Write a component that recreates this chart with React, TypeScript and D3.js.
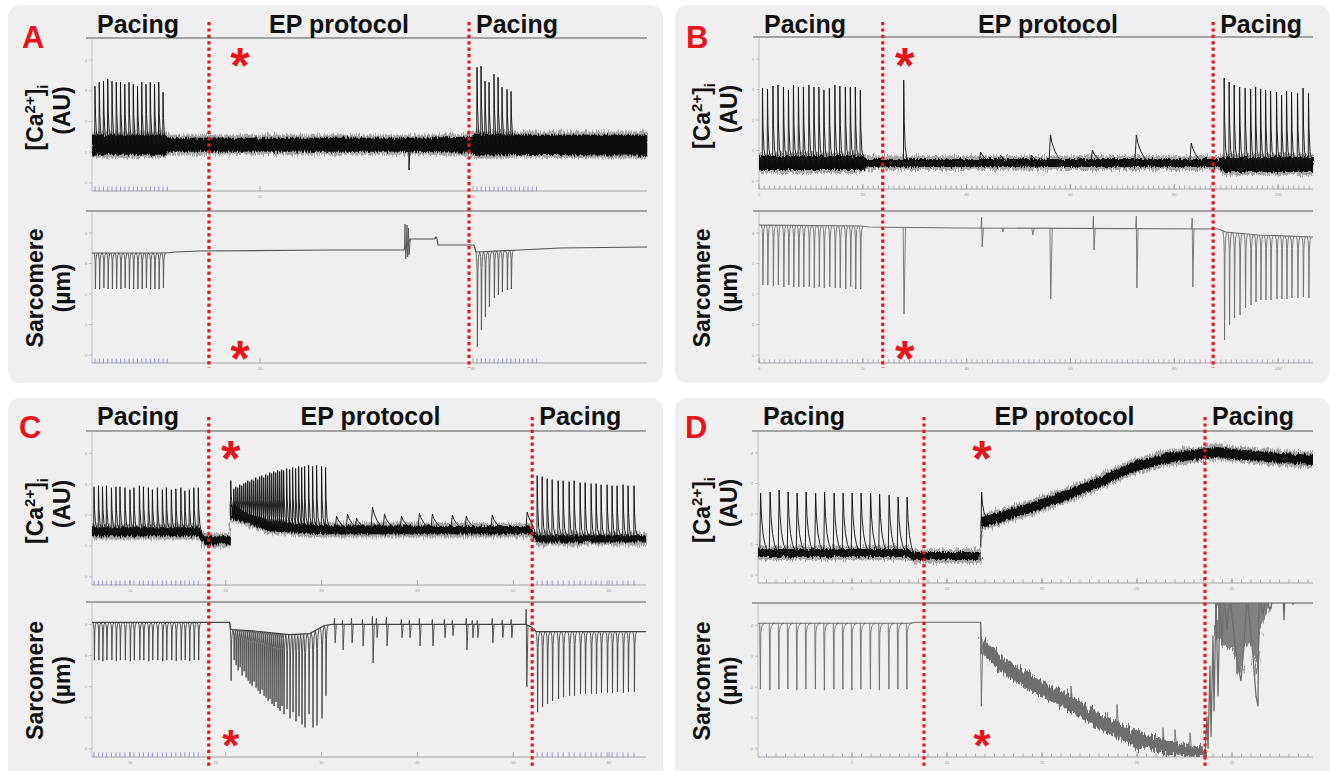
import React from 'react';
import * as d3 from 'd3';

type Pt = [number, number];
type Band = [number, number, number][];
type Bip = [number, number | null, number | null];

// ================= DATA (time in s, values in arbitrary units above axis) =================
// ---- Panel A ----
const aBoundaries = [23.4, 75.4];
const aStimulus = 29.4;
const aCaBand: Band = [[0, 36, 56], [14.6, 36, 56], [15.2, 39, 53], [62.6, 39, 53], [64.6, 39, 53], [75.6, 38, 54], [76.8, 35, 57], [85.6, 36, 56], [111, 35, 56]];
const aCaSpikes: Pt[] = [[0.6, 104], [1.45, 108], [2.3, 109], [3.15, 111], [4.0, 109], [4.85, 108], [5.7, 108], [6.55, 106], [7.4, 108], [8.25, 106], [9.1, 104], [9.95, 108], [10.8, 106], [11.65, 108], [12.5, 106], [13.35, 108], [14.2, 98], [77.0, 123], [77.8, 124], [78.6, 109], [79.4, 108], [80.4, 116], [81.2, 113], [82.0, 103], [83.0, 101], [83.8, 99]];
const aCaEvents: Pt[] = [[63.4, 21]];
const aStim = [0.6, 1.45, 2.3, 3.15, 4.0, 4.85, 5.7, 6.55, 7.4, 8.25, 9.1, 9.95, 10.8, 11.65, 12.5, 13.35, 14.2, 15.05, 77.0, 77.85, 78.7, 79.55, 80.4, 81.25, 82.1, 82.95, 83.8, 84.65, 85.5, 86.35, 87.2, 88.05, 88.9];
const aSarcBase: Pt[] = [[0, 110], [14.8, 110], [16.6, 111], [21.6, 112], [47.6, 113], [62.4, 113], [63.6, 124], [68.4, 124], [68.8, 126], [69.0, 124], [69.2, 118], [76.4, 118], [76.8, 111], [85.6, 113], [93.6, 115], [111, 116]];
const aSarcSpikes: Pt[] = [[0.6, 74], [1.45, 74], [2.3, 75], [3.15, 74], [4.0, 74], [4.85, 74], [5.7, 74], [6.55, 75], [7.4, 74], [8.25, 74], [9.1, 74], [9.95, 74], [10.8, 75], [11.65, 74], [12.5, 74], [13.35, 74], [14.2, 75], [77.0, 16], [77.8, 33], [78.6, 46], [79.4, 56], [80.4, 65], [81.2, 68], [82.0, 71], [83.0, 73], [83.8, 74]];
const aSarcEvents: Bip[] = [[62.6, 139, 104], [63.0, 138, 106], [63.3, 135, 108]];
const aMajorTicks = [33.6, 76.2];
const aMajorLabels = ['20', '40'];

// ---- Panel B ----
const bBoundaries = [24.8, 91.0];
const bStimulus = 29.0;
const bCaBand: Band = [[0, 19, 33], [20.8, 19, 33], [21.6, 22, 30], [92.4, 22, 30], [93.0, 17, 32], [111, 17, 32]];
const bCaSpikes: Pt[] = [[0.7, 101], [1.7, 100], [2.8, 103], [3.8, 104], [4.9, 102], [5.9, 99], [6.9, 104], [7.9, 102], [8.9, 102], [10.0, 104], [11.0, 102], [12.0, 102], [13.0, 99], [14.1, 101], [15.2, 104], [16.2, 103], [17.3, 102], [18.3, 102], [19.3, 102], [20.3, 99], [29.0, 109],
  [93.2, 111], [94.2, 107], [95.2, 104], [96.3, 102], [97.4, 101], [98.5, 100], [99.5, 102], [100.5, 100], [101.5, 99], [102.5, 98], [103.7, 97], [104.7, 94], [105.7, 98], [106.7, 97], [107.9, 96], [109.0, 101], [110.1, 96]];
const bCaEvents: Pt[] = [[44.4, 37], [48.4, 34], [54.6, 34], [58.4, 54], [64.0, 32], [66.8, 39], [75.6, 54], [86.6, 46]];
const bSarcBase: Pt[] = [[0, 138], [20.5, 137], [22, 136], [40, 135], [92, 134], [93.5, 131], [100, 128], [111, 126]];
const bSarcSpikes: Pt[] = [[0.7, 78], [1.7, 78], [2.8, 77], [3.8, 78], [4.9, 76], [5.9, 78], [6.9, 76], [7.9, 76], [8.9, 76], [10.0, 76], [11.0, 75], [12.0, 76], [13.0, 75], [14.1, 76], [15.2, 75], [16.2, 75], [17.3, 74], [18.3, 76], [19.3, 74], [20.3, 74],
  [93.2, 23], [94.2, 38], [95.2, 45], [96.3, 48], [97.4, 55], [98.5, 58], [99.5, 61], [100.5, 63], [101.5, 63], [102.5, 63], [103.7, 64], [104.7, 64], [105.7, 64], [106.7, 65], [107.9, 65], [109.0, 66], [110.1, 65]];
const bSarcEvents: Bip[] = [[29.0, null, 49], [44.6, 146, 116], [48.8, null, 131], [54.8, null, 128], [58.4, null, 64], [67.0, 147, 113], [75.6, 147, 75], [86.8, 145, 76]];
const bMajorTicks = [0, 20.8, 41.6, 62.4, 83.2, 104];
const bMajorLabels = ['0', '20', '40', '60', '80', '100'];

// ---- Panel C ----
const cBoundaries = [23.4, 88.2];
const cStimulus = 27.6;
const cCaBand: Band = [[0, 48, 57], [21.5, 48, 57], [22.5, 40, 48], [27.6, 40, 48], [27.8, 66, 80], [31.6, 60, 70], [35.6, 53, 63], [41.6, 51, 60], [47, 50, 59], [88, 50, 58], [89, 42, 49], [111, 42, 49]];
const cCaPacing: Pt[] = [[0.4, 97], [1.3, 98], [2.1, 97], [2.9, 98], [3.9, 96], [4.8, 97], [5.6, 97], [6.6, 96], [7.6, 94], [8.4, 96], [9.5, 98], [10.3, 97], [11.3, 96], [12.1, 94], [13.1, 96], [14.1, 94], [14.9, 96], [15.9, 94], [16.8, 95], [17.8, 96], [18.6, 93], [19.5, 94], [20.4, 96], [21.3, 96],
  [89.2, 108], [90.2, 107], [91.2, 105], [92.2, 104], [93.4, 103], [94.4, 103], [95.6, 102], [96.6, 103], [97.8, 101], [98.8, 101], [100.0, 100], [101.0, 100], [102.0, 99], [103.2, 99], [104.2, 98], [105.2, 98], [106.4, 99], [107.4, 98], [108.6, 98]];
const cCaBurst: Pt[] = [[27.8, 103], [28.4, 95], [28.8, 97], [29.2, 96], [29.6, 99], [30.0, 98], [30.4, 100], [30.8, 101], [31.2, 103], [31.6, 102], [32.0, 104], [32.4, 103], [32.8, 106], [33.2, 104], [33.6, 107], [34.0, 108], [34.4, 106], [34.8, 109], [35.2, 108], [35.6, 111], [36.0, 110], [36.4, 112], [36.8, 111], [37.2, 113], [37.6, 112], [38.0, 114], [38.4, 113], [39.0, 115], [39.6, 114], [40.2, 116], [40.8, 115], [41.4, 117], [42.0, 116], [42.6, 117], [43.4, 118], [44.2, 117], [45.0, 118], [46.0, 117], [46.8, 116]];
const cCaEvents: Pt[] = [[49.0, 68], [51.2, 70], [53.0, 66], [56.2, 77], [58.6, 70], [62.0, 68], [65.6, 71], [68.2, 70], [72.2, 69], [75.0, 68], [80.2, 69], [87.2, 72]];
const cStim = [0.4, 1.3, 2.1, 2.9, 3.9, 4.8, 5.6, 6.6, 7.6, 8.4, 9.5, 10.3, 11.3, 12.1, 13.1, 14.1, 14.9, 15.9, 16.8, 17.8, 18.6, 19.5, 20.4, 21.3, 89.2, 90.2, 91.2, 92.2, 93.4, 94.4, 95.6, 96.6, 97.8, 98.8, 100.0, 101.0, 102.0, 103.2, 104.2, 105.2, 106.4, 107.4, 108.6];
const cSarcBase: Pt[] = [[0, 132], [21.6, 132], [27.6, 132], [27.8, 125], [31.6, 124], [35.6, 122], [39.6, 120], [43.6, 121], [46.6, 129], [48, 130], [87, 130], [88.2, 127], [89, 123], [111, 123]];
const cSarcPacing: Pt[] = [[0.4, 95], [1.3, 95], [2.1, 94], [2.9, 95], [3.9, 95], [4.8, 94], [5.6, 95], [6.6, 95], [7.6, 94], [8.4, 95], [9.5, 95], [10.3, 95], [11.3, 94], [12.1, 95], [13.1, 95], [14.1, 94], [14.9, 95], [15.9, 95], [16.8, 94], [17.8, 95], [18.6, 95], [19.5, 94], [20.4, 95], [21.3, 95],
  [89.2, 44], [90.2, 49], [91.2, 52], [92.2, 55], [93.4, 57], [94.4, 59], [95.6, 60], [96.6, 60], [97.8, 62], [98.8, 62], [100.0, 62], [101.0, 62], [102.0, 63], [103.2, 63], [104.2, 63], [105.2, 64], [106.4, 63], [107.4, 64], [108.6, 64]];
const cSarcBurst: Pt[] = [[27.8, 75], [28.4, 95], [28.8, 90], [29.2, 85], [29.6, 88], [30.0, 80], [30.4, 84], [30.8, 78], [31.2, 75], [31.6, 72], [32.0, 70], [32.4, 74], [32.8, 68], [33.2, 65], [33.6, 62], [34.0, 66], [34.4, 60], [34.8, 58], [35.2, 55], [35.6, 57], [36.0, 52], [36.4, 50], [36.8, 54], [37.2, 48], [37.6, 45], [38.0, 50], [38.4, 42], [39.0, 47], [39.6, 38], [40.2, 44], [40.8, 35], [41.4, 40], [42.0, 32], [42.6, 29], [43.4, 42], [44.2, 29], [45.0, 31], [46.0, 38], [46.8, 60]];
const cSarcEvents: Bip[] = [[48.6, 136, 112], [50.2, 134, 105], [52.0, 136, 112], [54.2, 135, 109], [56.2, 138, 92], [57.0, 136, 117], [59.0, 137, 109], [62.0, 135, 117], [63.6, 134, 117], [65.6, 136, 109], [68.2, 135, 109], [70.6, 135, 117], [72.2, 134, 119], [75.0, 136, 105], [76.2, 134, 117], [77.2, 134, 117], [80.2, 136, 112], [82.2, 134, 117], [84.0, 135, 117], [87.0, 145, 69]];
const cMajorTicks = [7.6, 26.8, 46.0, 65.2, 84.4, 103.6];
const cMajorLabels = ['10', '20', '30', '40', '50', '60'];

// ---- Panel D ----
const dBoundaries = [33.2, 89.4];
const dStimulus = 44.6;
const dCaBand: Band = [[0, 26, 34], [30, 26, 34], [31, 23, 31], [44.5, 23, 31], [44.7, 55, 66], [48.4, 61, 71], [55, 71, 81], [61.8, 83, 93], [68.4, 96, 106], [75, 111, 121], [81.8, 120, 130], [88.4, 124, 134], [91.8, 126, 136], [95, 124, 134], [101.8, 121, 131], [111, 118, 128]];
const dCaSpikes: Pt[] = [[0.4, 90], [2.3, 91], [4.1, 93], [5.9, 91], [7.7, 90], [9.5, 91], [11.4, 90], [13.2, 91], [15.1, 90], [16.9, 90], [18.7, 90], [20.5, 90], [22.4, 90], [24.2, 89], [26.1, 88], [27.9, 86], [29.7, 86], [44.6, 91]];
const dSarcBase: Pt[] = [[0, 132], [30.5, 132], [31.5, 133], [44.55, 133], [44.7, 111], [48.4, 92], [55, 72], [61.8, 55], [68.4, 35], [75, 19], [81.8, 9], [88.4, 4], [89.6, 3]];
const dSarcBand: Band = [[44.7, 103, 119], [48.4, 84, 100], [55, 64, 80], [61.8, 47, 63], [68.4, 27, 43], [75, 11, 27], [81.8, 2, 16], [88.4, 0, 10], [89.6, 0, 8]];
const dSarcSpikes: Pt[] = [[0.4, 67], [2.3, 66], [4.1, 67], [5.9, 67], [7.7, 66], [9.5, 67], [11.4, 67], [13.2, 66], [15.1, 67], [16.9, 67], [18.7, 66], [20.5, 67], [22.4, 67], [24.2, 66], [26.1, 67], [27.9, 67], [29.7, 67]];
const dSarcEvents: Bip[] = [[44.6, null, 50], [62.6, 70, null], [67.0, 47, null], [71.8, 52, null], [81.0, 29, null], [83.4, 27, null], [86.4, 24, null]];
const dSarcChaos: Pt[] = [[89.4, 3], [89.8, 40], [90.0, 8], [90.4, 90], [90.6, 20], [91.0, 120], [91.2, 45], [91.6, 160], [92.0, 60], [92.4, 160], [92.8, 110], [93.2, 160], [93.8, 125], [94.4, 160], [95.2, 120], [96.0, 90], [96.6, 75], [97.2, 110], [97.8, 160], [98.4, 130], [99.0, 100], [99.6, 60], [100.0, 50], [100.2, 160], [101.0, 140], [101.6, 160], [102.4, 145], [103.2, 160], [105.0, 160], [105.2, 135], [105.4, 160], [106.8, 160], [107.0, 150], [107.2, 160], [111, 160]];
const dSarcChaosBand: Band = [[91.6, 118, 160], [93.4, 110, 160], [95.0, 104, 160], [95.8, 86, 160], [96.6, 78, 160], [97.2, 104, 160], [98.2, 112, 160], [99.2, 100, 160], [99.8, 70, 160], [100.4, 128, 160], [101.6, 138, 160], [102.6, 150, 160]];
const dMajorTicks = [18.8, 37.8, 56.8, 75.8, 94.8];
const dMajorLabels = ['5', '10', '15', '20', '25'];

const yTickValues = [8, 38.5, 69, 99.5, 130];
const yTickLabels = ['0', '1', '2', '3', '4'];
const headerLabels = ['Pacing', 'EP protocol', 'Pacing'];

// ================= STYLE =================
const FONT = '"Liberation Sans", Arial, Helvetica, sans-serif';
const RED = '#e8141c';
const BG = '#efefef';

const SHARP = [[-0.06, 0], [0, 1], [0.1, 0.5], [0.3, 0.18], [0.7, 0.04], [1.1, 0]];
const SLOW = [[-0.3, 0], [0, 1], [0.3, 0.72], [0.9, 0.42], [1.7, 0.16], [2.9, 0]];
const WIDE = [[-0.05, 0], [0.12, 1], [0.3, 0.6], [0.6, 0.32], [1.0, 0.14], [1.5, 0.04], [2.0, 0]];
const DIP = [[-0.25, 0], [-0.08, 0.06], [0.02, 0.2], [0.08, 1], [0.18, 0.2], [0.3, 0.06], [0.5, 0]];
const DIPR = [[-0.05, 0], [0.08, 1], [0.16, 0.14], [0.35, 0.05], [0.7, 0.01], [1.1, 0]];

const lineGen = d3.line<Pt>().x(d => d[0]).y(d => d[1]);

function knotFn(knots: Pt[]) {
  const s = d3.scaleLinear().domain(knots.map(k => k[0])).range(knots.map(k => k[1])).clamp(true);
  return (t: number) => s(t);
}

function spikePath(events: Pt[], shape: number[][], base: (t: number) => number, x: any, y: any) {
  return events.map(([t, v]) => lineGen(shape.map(([dt, f]) => {
    const b = base(t + dt);
    return [x(t + dt), y(b + f * (v - b))] as Pt;
  }))).join('');
}

function bipolarPath(events: Bip[], base: (t: number) => number, x: any, y: any) {
  return events.map(([t, up, dn]) => {
    const pts: Pt[] = [[t - 0.12, base(t - 0.12)]];
    if (up !== null) pts.push([t, up]);
    if (dn !== null) pts.push([t + (up !== null ? 0.12 : 0.06), dn]);
    pts.push([t + 0.35, base(t + 0.35)]);
    return lineGen(pts.map(([tt, v]) => [x(tt), y(v)] as Pt));
  }).join('');
}

interface Spec {
  letter: string; bx: number; by: number; bw: number; bh: number;
  axisX: number; right: number; caTop: number; caBottom: number; sTop: number; sBottom: number;
  headY: number; letterY: number; letterX: number; dotTop: number; dotBottom: number;
  astTop: number; astBottom: number; astBottomSize: number;
  boundaries: number[]; stimulus: number;
  caBand: Band; caSpikes: { ev: Pt[]; shape: number[][] }[];
  sarcBase: Pt[]; sarcSpikes: { ev: Pt[]; shape: number[][] }[]; sarcEvents: Bip[];
  sarcBand?: Band; sarcChaos?: Pt[]; sarcChaosBand?: Band; sarcColor: string;
  stim?: number[]; minor?: number[]; major: number[]; majorLabels: string[];
}

const panels: Spec[] = [
  {
    letter: 'A', bx: 8, by: 5, bw: 655, bh: 378, axisX: 92, right: 647, caTop: 38, caBottom: 191, sTop: 211, sBottom: 363,
    headY: 33, letterX: 22, letterY: 48, dotTop: 22, dotBottom: 368, astTop: 83, astBottom: 376, astBottomSize: 50,
    boundaries: aBoundaries, stimulus: aStimulus, caBand: aCaBand,
    caSpikes: [{ ev: aCaSpikes, shape: SHARP }, { ev: aCaEvents, shape: SHARP }],
    sarcBase: aSarcBase, sarcSpikes: [{ ev: aSarcSpikes, shape: DIP }], sarcEvents: aSarcEvents, sarcColor: '#555',
    stim: aStim, major: aMajorTicks, majorLabels: aMajorLabels,
  },
  {
    letter: 'B', bx: 675, by: 5, bw: 655, bh: 378, axisX: 759, right: 1313, caTop: 37, caBottom: 189, sTop: 211, sBottom: 363,
    headY: 33, letterX: 686, letterY: 48, dotTop: 22, dotBottom: 368, astTop: 83, astBottom: 376, astBottomSize: 50,
    boundaries: bBoundaries, stimulus: bStimulus, caBand: bCaBand,
    caSpikes: [{ ev: bCaSpikes, shape: SHARP }, { ev: bCaEvents, shape: SLOW }],
    sarcBase: bSarcBase, sarcSpikes: [{ ev: bSarcSpikes, shape: DIP }], sarcEvents: bSarcEvents, sarcColor: '#6e6e6e',
    minor: d3.range(0, 111, 1.04), major: bMajorTicks, majorLabels: bMajorLabels,
  },
  {
    letter: 'C', bx: 8, by: 398, bw: 655, bh: 390, axisX: 92, right: 646, caTop: 431, caBottom: 585, sTop: 602, sBottom: 757,
    headY: 425, letterX: 19, letterY: 438, dotTop: 417, dotBottom: 766, astTop: 476, astBottom: 761, astBottomSize: 44,
    boundaries: cBoundaries, stimulus: cStimulus, caBand: cCaBand,
    caSpikes: [{ ev: cCaPacing, shape: SHARP }, { ev: cCaBurst, shape: SHARP }, { ev: cCaEvents, shape: SLOW }],
    sarcBase: cSarcBase, sarcSpikes: [{ ev: cSarcPacing, shape: DIP }, { ev: cSarcBurst, shape: DIP }], sarcEvents: cSarcEvents, sarcColor: '#444',
    stim: cStim, major: cMajorTicks, majorLabels: cMajorLabels,
  },
  {
    letter: 'D', bx: 675, by: 398, bw: 655, bh: 390, axisX: 758, right: 1313, caTop: 431, caBottom: 583, sTop: 603, sBottom: 757,
    headY: 425, letterX: 685, letterY: 438, dotTop: 417, dotBottom: 766, astTop: 476, astBottom: 761, astBottomSize: 44,
    boundaries: dBoundaries, stimulus: dStimulus, caBand: dCaBand,
    caSpikes: [{ ev: dCaSpikes, shape: WIDE }],
    sarcBase: dSarcBase, sarcSpikes: [{ ev: dSarcSpikes, shape: DIPR }], sarcEvents: dSarcEvents, sarcColor: '#6e6e6e',
    sarcBand: dSarcBand, sarcChaos: dSarcChaos, sarcChaosBand: dSarcChaosBand,
    minor: d3.range(1.7, 111, 1.9), major: dMajorTicks, majorLabels: dMajorLabels,
  },
];

function AxisFrame({ s, x, top, bottom, skipLabelNear }: { s: Spec; x: any; top: number; bottom: number; skipLabelNear?: number }) {
  const y = d3.scaleLinear().domain([0, 152]).range([bottom, top]);
  return (
    <g>
      <line x1={s.axisX - 6} x2={s.right} y1={top} y2={top} stroke="#8a8a8a" strokeWidth={1.4} />
      <line x1={s.axisX} x2={s.axisX} y1={top} y2={bottom} stroke="#b4b4b4" strokeWidth={0.8} />
      <line x1={s.axisX} x2={s.right} y1={bottom} y2={bottom} stroke="#a4a4a4" strokeWidth={1} />
      {yTickValues.map((v, i) => (
        <g key={'y' + i}>
          <line x1={s.axisX - 3} x2={s.axisX} y1={y(v)} y2={y(v)} stroke="#aaa" strokeWidth={0.7} />
          <text x={s.axisX - 5} y={y(v) + 1.5} fontSize={4} fill="#999" textAnchor="end">{yTickLabels[i]}</text>
        </g>
      ))}
      {(s.stim || []).map((t, i) => (
        <line key={'s' + i} x1={x(t)} x2={x(t)} y1={bottom} y2={bottom - 4.5} stroke="#8c8cd2" strokeWidth={0.9} />
      ))}
      {(s.minor || []).map((t, i) => (
        <line key={'m' + i} x1={x(t)} x2={x(t)} y1={bottom} y2={bottom - 3.5} stroke="#9c9cb4" strokeWidth={0.8} />
      ))}
      {s.major.map((t, i) => {
        const near = skipLabelNear !== undefined && Math.abs(x(t) - skipLabelNear) < 12;
        return (
          <g key={'M' + i}>
            <line x1={x(t)} x2={x(t)} y1={bottom} y2={bottom - 5} stroke="#999" strokeWidth={0.8} />
            <text x={x(t) + (near ? -10 : 0)} y={bottom + 7} fontSize={4} fill="#999" textAnchor="middle">{s.majorLabels[i]}</text>
          </g>
        );
      })}
    </g>
  );
}

function Panel({ s }: { s: Spec }) {
  const id = s.letter;
  const x = d3.scaleLinear().domain([0, 111]).range([s.axisX, s.right]);
  const yC = d3.scaleLinear().domain([0, 152]).range([s.caBottom, s.caTop]);
  const yS = d3.scaleLinear().domain([0, 152]).range([s.sBottom, s.sTop]);
  const caMid = knotFn(s.caBand.map(([t, lo, hi]) => [t, (lo + hi) / 2] as Pt));
  const sMid = knotFn(s.sarcBase);
  const bandC = d3.area<[number, number, number]>().x(d => x(d[0])).y0(d => yC(d[1])).y1(d => yC(d[2]));
  const bandS = d3.area<[number, number, number]>().x(d => x(d[0])).y0(d => yS(d[1])).y1(d => yS(d[2]));
  const outer = s.caBand.map(([t, lo, hi]) => [t, lo - 3, hi + 3] as [number, number, number]);
  const sLine = d3.line<Pt>().x(d => x(d[0])).y(d => yS(d[1]));
  const [b0, b1] = s.boundaries;
  const caCy = (s.caTop + s.caBottom) / 2;
  const sCy = (s.sTop + s.sBottom) / 2;
  const lx = s.bx;
  const astX = x(s.stimulus) + 1;
  return (
    <g>
      <rect x={s.bx} y={s.by} width={s.bw} height={s.bh} rx={12} fill={BG} />
      <defs>
        <clipPath id={`cc${id}`}><rect x={s.axisX} y={s.caTop} width={s.right - s.axisX + 1} height={s.caBottom - s.caTop} /></clipPath>
        <clipPath id={`sc${id}`}><rect x={s.axisX} y={s.sTop} width={s.right - s.axisX + 1} height={s.sBottom - s.sTop} /></clipPath>
      </defs>
      <AxisFrame s={s} x={x} top={s.caTop} bottom={s.caBottom} />
      <AxisFrame s={s} x={x} top={s.sTop} bottom={s.sBottom} skipLabelNear={astX} />

      {/* Calcium trace */}
      <g clipPath={`url(#cc${id})`}>
        <path d={bandC(outer) || ''} fill="#222" opacity={0.35} filter="url(#jit)" />
        <path d={bandC(s.caBand) || ''} fill="#111" filter="url(#jit2)" />
        {s.caSpikes.map((g, i) => (
          <path key={i} d={spikePath(g.ev, g.shape, caMid, x, yC)} fill="none" stroke="#151515" strokeWidth={0.95} strokeLinejoin="round" />
        ))}
      </g>

      {/* Sarcomere trace */}
      <g clipPath={`url(#sc${id})`}>
        {s.sarcBand && <path d={bandS(s.sarcBand) || ''} fill={s.sarcColor} filter="url(#jit3)" />}
        {s.sarcChaosBand && <path d={bandS(s.sarcChaosBand) || ''} fill={s.sarcColor} opacity={0.85} filter="url(#jit3)" />}
        <path d={sLine(s.sarcBase) || ''} fill="none" stroke={s.sarcColor} strokeWidth={1.2} />
        {s.sarcSpikes.map((g, i) => (
          <path key={i} d={spikePath(g.ev, g.shape, sMid, x, yS)} fill="none" stroke={s.sarcColor} strokeWidth={0.9} />
        ))}
        <path d={bipolarPath(s.sarcEvents, sMid, x, yS)} fill="none" stroke={s.sarcColor} strokeWidth={0.9} />
        {s.sarcChaos && <path d={sLine(s.sarcChaos) || ''} fill="none" stroke={s.sarcColor} strokeWidth={1.3} />}
      </g>

      {/* Y labels */}
      <text transform={`translate(${lx + 35},${caCy + 3}) rotate(-90)`} textAnchor="middle" fontSize={23} fontWeight="bold" fill="#111">
        <tspan>[Ca</tspan><tspan fontSize={15} dy={-8}>2+</tspan><tspan dy={8}>]</tspan><tspan fontSize={15} dy={5}>i</tspan>
      </text>
      <text transform={`translate(${lx + 62},${caCy - 4}) rotate(-90)`} textAnchor="middle" fontSize={23} fontWeight="bold" fill="#111">(AU)</text>
      <text transform={`translate(${lx + 35},${sCy + 1}) rotate(-90)`} textAnchor="middle" fontSize={23} fontWeight="bold" fill="#111">Sarcomere</text>
      <text transform={`translate(${lx + 62},${sCy + 1}) rotate(-90)`} textAnchor="middle" fontSize={23} fontWeight="bold" fill="#111">(µm)</text>

      {/* headers */}
      <text x={s.axisX + 5} y={s.headY} fontSize={25} fontWeight="bold" fill="#111">{headerLabels[0]}</text>
      <text x={(x(b0) + x(b1)) / 2} y={s.headY} fontSize={25} fontWeight="bold" fill="#111" textAnchor="middle">{headerLabels[1]}</text>
      <text x={x(b1) + 7} y={s.headY} fontSize={25} fontWeight="bold" fill="#111">{headerLabels[2]}</text>
      <text x={s.letterX} y={s.letterY} fontSize={31} fontWeight="bold" fill={RED}>{s.letter}</text>

      {/* protocol boundaries */}
      {s.boundaries.map((b, i) => (
        <line key={i} x1={x(b)} x2={x(b)} y1={s.dotTop} y2={s.dotBottom} stroke={RED} strokeWidth={3.2} strokeDasharray="3.2 3.2" />
      ))}
      {/* stimulus asterisks */}
      <text x={astX} y={s.astTop} fontSize={50} fontWeight="bold" fill={RED} textAnchor="middle">*</text>
      <text x={astX} y={s.astBottom} fontSize={s.astBottomSize} fontWeight="bold" fill={RED} textAnchor="middle">*</text>
    </g>
  );
}

export default function App() {
  return (
    <svg width={1336} height={771} style={{ position: 'absolute', left: 0, top: 0, background: '#fff' }} fontFamily={FONT}>
      <defs>
        <filter id="jit" x="-2%" y="-60%" width="104%" height="220%">
          <feTurbulence type="fractalNoise" baseFrequency="0.9 0.05" numOctaves={2} seed={3} result="n" />
          <feDisplacementMap in="SourceGraphic" in2="n" scale={9} xChannelSelector="R" yChannelSelector="G" />
        </filter>
        <filter id="jit2" x="-2%" y="-60%" width="104%" height="220%">
          <feTurbulence type="fractalNoise" baseFrequency="0.7 0.06" numOctaves={2} seed={7} result="n" />
          <feDisplacementMap in="SourceGraphic" in2="n" scale={6} xChannelSelector="R" yChannelSelector="G" />
        </filter>
        <filter id="jit3" x="-2%" y="-20%" width="104%" height="140%">
          <feTurbulence type="fractalNoise" baseFrequency="0.6 0.05" numOctaves={2} seed={11} result="n" />
          <feDisplacementMap in="SourceGraphic" in2="n" scale={13} xChannelSelector="R" yChannelSelector="G" />
        </filter>
      </defs>
      {panels.map(p => <Panel key={p.letter} s={p} />)}
    </svg>
  );
}
